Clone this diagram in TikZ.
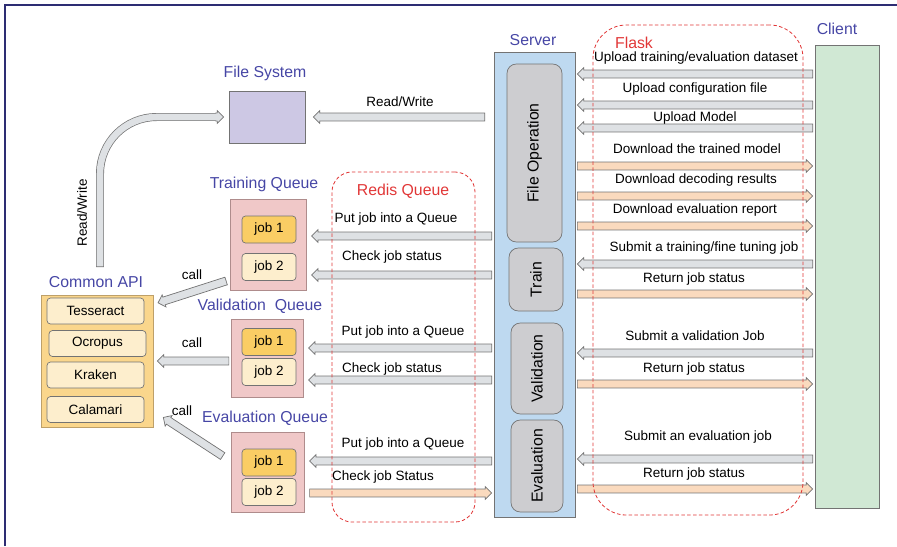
\documentclass[tikz,border=0pt]{standalone}
\usepackage{fontspec}
\setmainfont{Liberation Sans}
\usetikzlibrary{shapes.arrows,calc}

\definecolor{framenavy}{RGB}{45,45,115}
\definecolor{titleblue}{RGB}{70,70,165}
\definecolor{flaskred}{RGB}{225,55,55}
\definecolor{fsfill}{RGB}{205,200,228}
\definecolor{apifill}{RGB}{250,214,140}
\definecolor{apiedge}{RGB}{190,160,105}
\definecolor{itemfill}{RGB}{253,238,205}
\definecolor{queuefill}{RGB}{240,200,200}
\definecolor{queueedge}{RGB}{175,140,140}
\definecolor{jobone}{RGB}{250,205,100}
\definecolor{serverfill}{RGB}{190,217,240}
\definecolor{partfill}{RGB}{205,205,208}
\definecolor{clientfill}{RGB}{208,232,212}
\definecolor{arrowgray}{RGB}{222,225,228}
\definecolor{arroworange}{RGB}{250,218,190}
\definecolor{edgegray}{RGB}{115,115,115}

\tikzset{
  title/.style={text=titleblue,font=\fontsize{13.5}{15}\selectfont},
  lbl/.style={font=\fontsize{11.5}{13}\selectfont},
  box/.style={rectangle,draw=edgegray,line width=0.6pt,inner sep=0pt},
  item/.style={box,rounded corners=3pt,fill=itemfill,minimum width=2.91cm,minimum height=0.78cm,lbl},
  queue/.style={box,fill=queuefill,draw=queueedge},
  job/.style={box,rounded corners=3pt,minimum width=1.62cm,minimum height=0.81cm,lbl},
  srvpart/.style={box,fill=partfill,rounded corners=8pt,rotate=90,font=\fontsize{13.5}{15}\selectfont},
  dashbox/.style={rectangle,draw=flaskred,dash pattern=on 3pt off 2pt,line width=0.7pt,inner sep=0pt},
  barrow/.style={single arrow,draw=edgegray,fill=arrowgray,line width=0.6pt,inner xsep=0pt,
    inner ysep=3.1pt,outer sep=0pt,single arrow head extend=2pt,minimum width=1pt},
  oarrow/.style={barrow,fill=arroworange}
}

% block arrow between two points: [style]{name}{from}{to}
\newcommand{\blockarrow}[4][barrow]{%
  \path let \p1=(#3), \p2=(#4),
    \n1={veclen(\x2-\x1,\y2-\y1)}, \n2={atan2(\y2-\y1,\x2-\x1)} in
    node[#1,minimum height=\n1,rotate=\n2,anchor=tail] (#2) at (#3) {};}

\begin{document}
\begin{tikzpicture}[x=0.03cm,y=-0.03cm]
    \useasboundingbox (0,0) rectangle (897,546);
    \draw[framenavy,line width=2pt] (5,546) -- (5,5) -- (897,5);

    % file system
    \node[title] (fstitle) at (265,73) {File System};
    \node[box,fill=fsfill,minimum width=2.28cm,minimum height=1.56cm] (fs) at (267,117) {};

    % common api
    \node[title] (capititle) at (96,282) {Common API};
    \node[box,fill=apifill,draw=apiedge,minimum width=3.36cm,minimum height=3.96cm] (capi) at (97,361) {};
    \node[item] (tess) at (95.5,311) {Tesseract};
    \node[item] (ocro) at (97.5,343.5) {Ocropus};
    \node[item] (krak) at (95.5,375) {Kraken};
    \node[item] (cala) at (95.5,409.5) {Calamari};

    % queues
    \node[title] (tqtitle) at (264,184) {Training Queue};
    \node[queue,minimum width=2.28cm,minimum height=2.73cm] (tq) at (268,244.5) {};
    \node[job,fill=jobone] (tj1) at (269,229.5) {job 1};
    \node[job,fill=itemfill] (tj2) at (269,267) {job 2};

    \node[title] (vqtitle) at (260,306) {Validation~~Queue};
    \node[queue,minimum width=2.16cm,minimum height=2.34cm] (vq) at (267,358) {};
    \node[job,fill=jobone] (vj1) at (269,342) {job 1};
    \node[job,fill=itemfill] (vj2) at (269,372) {job 2};

    \node[title] (eqtitle) at (265,418) {Evaluation Queue};
    \node[queue,minimum width=2.19cm,minimum height=2.4cm] (eq) at (267.5,472) {};
    \node[job,fill=jobone] (ej1) at (269,462.5) {job 1};
    \node[job,fill=itemfill] (ej2) at (269,492) {job 2};

    % server
    \node[title] (srvtitle) at (533,40) {Server};
    \node[box,fill=serverfill,minimum width=2.43cm,minimum height=13.95cm] (server) at (534.5,284.5) {};
    \node[srvpart,minimum width=5.34cm,minimum height=1.65cm] (fop) at (534.5,153) {File Operation};
    \node[srvpart,minimum width=1.89cm,minimum height=1.62cm] (trn) at (536,279.5) {Train};
    \node[srvpart,minimum width=2.73cm,minimum height=1.56cm] (val) at (537,368.5) {Validation};
    \node[srvpart,minimum width=2.76cm,minimum height=1.56cm] (evl) at (537,466) {Evaluation};

    % client
    \node[title] (clitle) at (837,29) {Client};
    \node[box,fill=clientfill,minimum width=1.92cm,minimum height=13.89cm] (client) at (847,276.5) {};

    % read/write to file system
    \coordinate (rw0) at (100,267);
    \coordinate (rwa) at ([xshift=-10.2pt]fs.west);
    \coordinate (rwb) at ([xshift=-8.5pt]fs.west);
    \coordinate (rwc) at ([xshift=-11pt]fs.west);
    \coordinate (rwd) at ([xshift=-4.3pt]fs.west);
    \draw[edgegray,line width=6.8pt,rounded corners=1.7cm] (rw0) |- (rwa);
    \blockarrow{rwhead}{rwc}{rwd}
    \draw[arrowgray,line width=5.6pt,rounded corners=1.7cm,shorten <=0.6pt] (rw0) |- (rwb);
    \node[lbl,rotate=90] (rwlbl) at (82,213) {Read/Write};

    \coordinate (srw) at ([xshift=-7.6pt]server.west |- fs.east);
    \coordinate (fsrw) at ([xshift=6.8pt]fs.east);
    \blockarrow{srvfs}{srw}{fsrw}
    \node[lbl] (srwlbl) at (400,102) {Read/Write};

    % calls
    \coordinate (tcall) at ([shift={(-3pt,8pt)}]tq.south west);
    \coordinate (tcapi) at ([shift={(4pt,-7pt)}]capi.north east);
    \blockarrow{tcarrow}{tcall}{tcapi}
    \node[lbl] (tclbl) at (192,275) {call};
    \coordinate (vcall) at ([xshift=-1.5pt]vq.west |- capi.east);
    \coordinate (vcapi) at ([xshift=3.5pt]capi.east);
    \blockarrow{vcarrow}{vcall}{vcapi}
    \node[lbl] (vclbl) at (192,343) {call};
    \coordinate (ecall) at ([shift={(-6.8pt,13.6pt)}]eq.west);
    \coordinate (ecapi) at ([shift={(8.5pt,8.5pt)}]capi.south east);
    \blockarrow{ecarrow}{ecall}{ecapi}
    \node[lbl] (eclbl) at (182,411) {call};

    % server <-> queues
    \foreach \q/\ya/\xl/\yl/\sty/\from/\to/\txt [count=\i] in {
      tq/236/396/219/barrow/sq/qq/{Put job into a Queue},
      tq/275/392/257/barrow/sq/qq/{Check job status},
      vq/348/403/332/barrow/sq/qq/{Put job into a Queue},
      vq/380/392/369/barrow/sq/qq/{Check job status},
      eq/461/403/444/barrow/sq/qq/{Put job into a Queue},
      eq/493/383/477/oarrow/qq/sq/{Check job Status}}{
      \coordinate (sq\i) at ([xshift=-1.7pt]server.west |- 0,\ya);
      \coordinate (qq\i) at ([xshift=4.5pt]\q.east |- 0,\ya);
      \blockarrow[\sty]{qa\i}{\from\i}{\to\i}
      \node[lbl] (ql\i) at (\xl,\yl) {\txt};
    }

    % server <-> client
    \foreach \ya/\yl/\xl/\sty/\from/\to/\txt [count=\i] in {
      74/58/696/barrow/cl/sv/{Upload training/evaluation dataset},
      105/89/695/barrow/cl/sv/{Upload configuration file},
      128/118/695/barrow/cl/sv/{Upload Model},
      166/149/697/oarrow/sv/cl/{Download the trained model},
      196/180/696/oarrow/sv/cl/{Download decoding results},
      226/210/695/oarrow/sv/cl/{Download evaluation report},
      264/248/704/barrow/cl/sv/{Submit a training/fine tuning job},
      294/279/694/oarrow/sv/cl/{Return job status},
      353/336/695/barrow/cl/sv/{Submit a validation Job},
      384/369/694/oarrow/sv/cl/{Return job status},
      459/437/698/barrow/cl/sv/{Submit an evaluation job},
      489/474/694/oarrow/sv/cl/{Return job status}}{
      \coordinate (sv\i) at ([xshift=1.7pt]server.east |- 0,\ya);
      \coordinate (cl\i) at ([xshift=-1.7pt]client.west |- 0,\ya);
      \blockarrow[\sty]{fa\i}{\from\i}{\to\i}
      \node[lbl] (fl\i) at (\xl,\yl) {\txt};
    }

    % dashed groups
    \node[dashbox,rounded corners=0.6cm,minimum width=4.29cm,minimum height=10.5cm] (redis) at (403.5,347) {};
    \node[text=flaskred,font=\fontsize{13.5}{15}\selectfont] (redistitle) at (403,191) {Redis Queue};
    \node[dashbox,rounded corners=1cm,minimum width=6.3cm,minimum height=14.7cm] (flask) at (698,270) {};
    \node[text=flaskred,font=\fontsize{13.5}{15}\selectfont] (flasktitle) at (634,43) {Flask};
\end{tikzpicture}
\end{document}
